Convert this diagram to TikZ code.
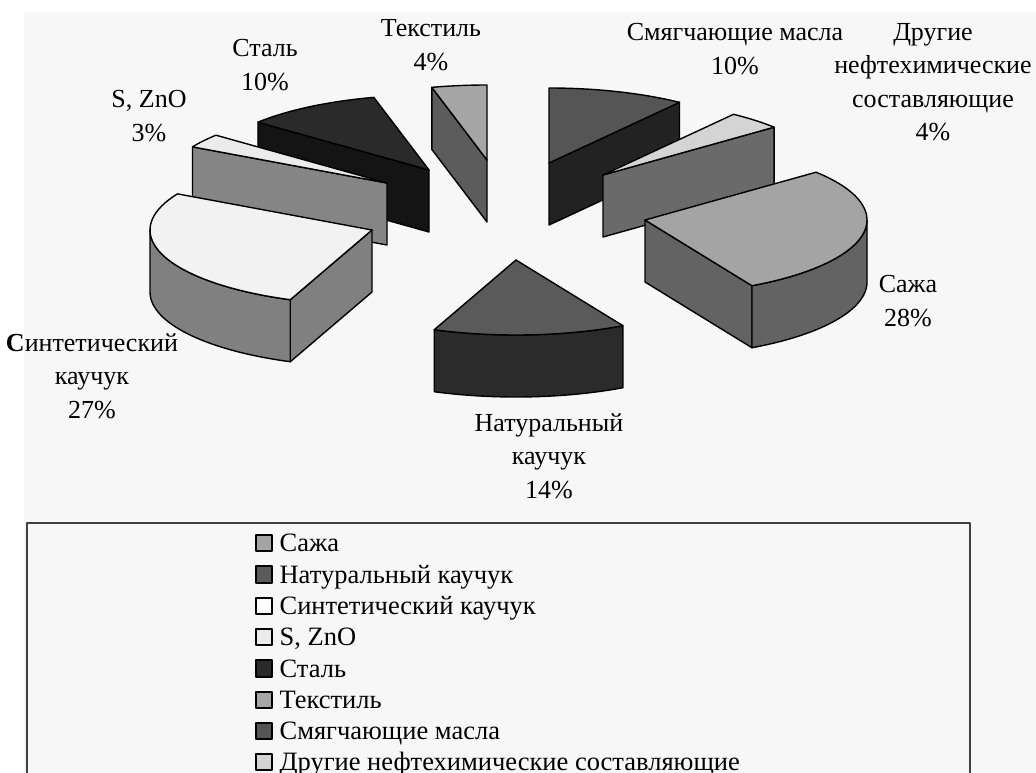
\documentclass[tikz,border=0pt]{standalone}
\usepackage{fontspec}
\setmainfont{Liberation Serif}
\usepackage{tikz}
\usetikzlibrary{positioning}

\definecolor{chartbg}{HTML}{F7F7F7}
\definecolor{framegrey}{HTML}{404040}
\definecolor{sazhatop}{HTML}{A4A4A4}
\definecolor{sazhaside}{HTML}{636363}
\definecolor{naturaltop}{HTML}{5A5A5A}
\definecolor{naturalside}{HTML}{2B2B2B}
\definecolor{synthtop}{HTML}{F2F2F2}
\definecolor{synthside}{HTML}{808080}
\definecolor{sznotop}{HTML}{EBEBEB}
\definecolor{sznoside}{HTML}{858585}
\definecolor{steeltop}{HTML}{2A2A2A}
\definecolor{steelside}{HTML}{141414}
\definecolor{textiletop}{HTML}{A6A6A6}
\definecolor{textileside}{HTML}{5C5C5C}
\definecolor{oilstop}{HTML}{555555}
\definecolor{oilsside}{HTML}{222222}
\definecolor{othertop}{HTML}{D4D4D4}
\definecolor{otherside}{HTML}{6A6A6A}

\newcommand{\pierx}{222}
\newcommand{\piery}{75}
\newcommand{\pieh}{62}
% top of a slice
\newcommand{\pietop}[3]{\filldraw[slice, fill=#3] (0,0) -- plot[domain=#1:#2] ({\pierx*cos(\x)},{\piery*sin(\x)}) -- cycle;}
% outer rim of a slice
\newcommand{\pierim}[3]{\filldraw[slice, fill=#3] plot[domain=#1:#2] ({\pierx*cos(\x)},{\piery*sin(\x)}) -- plot[domain=#2:#1] ({\pierx*cos(\x)},{\piery*sin(\x)-\pieh}) -- cycle;}
% cut face of a slice
\newcommand{\piecut}[2]{\filldraw[slice, fill=#2] (0,0) -- ({\pierx*cos(#1)},{\piery*sin(#1)}) -- ++(0,-\pieh) -- (0,-\pieh) -- cycle;}

\begin{document}
\begin{tikzpicture}[x=1pt, y=1pt, line join=round,
    slice/.style={draw=black, line width=1.4pt, samples=40},
    lbl/.style={align=center, inner sep=0pt, font=\fontsize{26}{33.5}\selectfont},
    legendkey/.style={draw=black, line width=2.3pt, minimum size=16.5pt, inner sep=0pt},
    legendtext/.style={inner sep=0pt, text height=20pt, text depth=3pt, font=\fontsize{26.5}{30}\selectfont}]
  \useasboundingbox (0,0) rectangle (1036,-773);
  \clip (0,0) rectangle (1036,-773);
  \fill[chartbg] (24,-12) rectangle (1040,-780);

  % slices, back to front
  \begin{scope}[shift={(487,-160)}] % textile
    \piecut{104.4}{textileside}
    \pietop{90}{104.4}{textiletop}
  \end{scope}
  \begin{scope}[shift={(429,-170)}] % steel
    \piecut{140.4}{steelside}
    \pietop{104.4}{140.4}{steeltop}
  \end{scope}
  \begin{scope}[shift={(549,-163)}] % oils
    \piecut{54}{oilsside}
    \pietop{54}{90}{oilstop}
  \end{scope}
  \begin{scope}[shift={(603,-175)}] % other
    \piecut{39.6}{otherside}
    \pietop{39.6}{54}{othertop}
  \end{scope}
  \begin{scope}[shift={(387,-183)}] % S, ZnO
    \piecut{151.2}{sznoside}
    \pietop{140.4}{151.2}{sznotop}
  \end{scope}
  \begin{scope}[shift={(372,-230)}] % synthetic rubber
    \piecut{248.4}{synthside}
    \pierim{180}{248.4}{synthside}
    \pietop{151.2}{248.4}{synthtop}
  \end{scope}
  \begin{scope}[shift={(645,-220)}] % carbon black
    \piecut{-61.2}{sazhaside}
    \pierim{-61.2}{0}{sazhaside}
    \pietop{-61.2}{39.6}{sazhatop}
  \end{scope}
  \begin{scope}[shift={(516,-260)}] % natural rubber
    \pierim{-111.6}{-61.2}{naturalside}
    \pietop{-111.6}{-61.2}{naturaltop}
  \end{scope}

  % labels
  \node[lbl] (lbsazha) at (908,-301) {Сажа\\28\%};
  \node[lbl] (lbnatural) at (549,-456) {Натуральный\\каучук\\14\%};
  \node[lbl] (lbsynth) at (92,-376) {{\bfseries С}интетический\\каучук\\27\%};
  \node[lbl] (lbszno) at (149,-116) {S, ZnO\\3\%};
  \node[lbl] (lbsteel) at (265,-65) {Сталь\\10\%};
  \node[lbl] (lbtextile) at (431,-45) {Текстиль\\4\%};
  \node[lbl] (lboils) at (735,-49) {Смягчающие масла\\10\%};
  \node[lbl] (lbother) at (933,-82) {Другие\\нефтехимические\\составляющие\\4\%};

  % legend
  \draw[framegrey, line width=2pt] (27,-790) -- (27,-523) -- (970,-523) -- (970,-790);
  \node[legendkey, fill=sazhatop] (k1) at (264,-543) {};
  \node[legendtext, right=6pt of k1] (t1) {Сажа};
  \node[legendkey, fill=naturaltop] (k2) at (264,-574.5) {};
  \node[legendtext, right=6pt of k2] (t2) {Натуральный каучук};
  \node[legendkey, fill=white] (k3) at (264,-606) {};
  \node[legendtext, right=6pt of k3] (t3) {Синтетический каучук};
  \node[legendkey, fill=sznotop] (k4) at (264,-637) {};
  \node[legendtext, right=6pt of k4] (t4) {S, ZnO};
  \node[legendkey, fill=steeltop] (k5) at (264,-668.5) {};
  \node[legendtext, right=6pt of k5] (t5) {Сталь};
  \node[legendkey, fill=textiletop] (k6) at (264,-700) {};
  \node[legendtext, right=6pt of k6] (t6) {Текстиль};
  \node[legendkey, fill=oilstop] (k7) at (264,-731) {};
  \node[legendtext, right=6pt of k7] (t7) {Смягчающие масла};
  \node[legendkey, fill=othertop] (k8) at (264,-762) {};
  \node[legendtext, right=6pt of k8] (t8) {Другие нефтехимические составляющие};
\end{tikzpicture}
\end{document}
